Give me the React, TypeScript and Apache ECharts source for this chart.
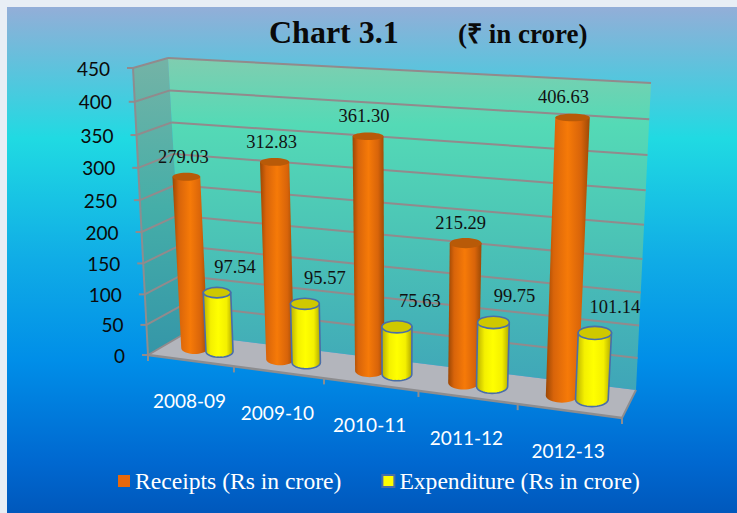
import React, { useEffect, useRef } from "react";
import * as echarts from "echarts";

const categories = ["2008-09", "2009-10", "2010-11", "2011-12", "2012-13"];
const receipts = [279.03, 312.83, 361.3, 215.29, 406.63];
const expenditure = [97.54, 95.57, 75.63, 99.75, 101.14];
const valueTicks = [0, 50, 100, 150, 200, 250, 300, 350, 400, 450];
const receiptsName = "Receipts (Rs in crore)";
const expenditureName = "Expenditure (Rs in crore)";

type Pt = [number, number];
// corners: bottom-left, bottom-right, top-right, top-left
const BACK: Pt[] = [[184, 334], [636, 390], [651, 83], [168, 58]];
const FRONT: Pt[] = [[148, 355], [622, 418], [641, 96], [133, 68]];

function homography(q: Pt[]) {
  const [[x0, y0], [x1, y1], [x2, y2], [x3, y3]] = q;
  const dx1 = x1 - x2, dx2 = x3 - x2, sx = x0 - x1 + x2 - x3;
  const dy1 = y1 - y2, dy2 = y3 - y2, sy = y0 - y1 + y2 - y3;
  const den = dx1 * dy2 - dx2 * dy1;
  const g = (sx * dy2 - dx2 * sy) / den;
  const h = (dx1 * sy - sx * dy1) / den;
  const a = x1 - x0 + g * x1, b = x3 - x0 + h * x3;
  const d = y1 - y0 + g * y1, e = y3 - y0 + h * y3;
  return (u: number, v: number): Pt => {
    const w = g * u + h * v + 1;
    return [(a * u + b * v + x0) / w, (d * u + e * v + y0) / w];
  };
}
const backH = homography(BACK);
const frontH = homography(FRONT);
function project(u: number, v: number, depth: number): Pt {
  const b = backH(u, v), f = frontH(u, v);
  return [b[0] + (f[0] - b[0]) * depth, b[1] + (f[1] - b[1]) * depth];
}

const GRID_COLOR = "#928a8c";
const AXIS_COLOR = "#8d8d8f";
const SERIF = '"Liberation Serif", serif';
const SANS = 'Lato, sans-serif';
const BAR_DEPTH = 0.5;
const RADIUS = 0.032;
const DEPTH_RADIUS = 0.27;

const vGrad = (stops: [number, string][]) => ({
  type: "linear", x: 0, y: 0, x2: 0, y2: 1,
  colorStops: stops.map(([offset, color]) => ({ offset, color })),
});
const hGrad = (stops: [number, string][]) => ({
  type: "linear", x: 0, y: 0, x2: 1, y2: 0,
  colorStops: stops.map(([offset, color]) => ({ offset, color })),
});

function toUnit(params: any, api: any, cat: number, val: number) {
  const pt = api.coord([cat, val]);
  const cs = params.coordSys;
  return { u: (pt[0] - cs.x) / cs.width, v: 1 - (pt[1] - cs.y) / cs.height };
}
const line = (a: Pt, b: Pt, stroke: string, lineWidth: number) => ({
  type: "line",
  shape: { x1: a[0], y1: a[1], x2: b[0], y2: b[1] },
  style: { stroke, lineWidth },
});

const renderWalls = () => ({
  type: "group",
  children: [
    {
      type: "polygon",
      shape: { points: [project(0, 0, 0), project(1, 0, 0), project(1, 1, 0), project(0, 1, 0)] },
      style: { fill: vGrad([[0, "#80cdb0"], [0.2, "#54dab6"], [0.55, "#4bc3b6"], [1, "#3fa5b8"]]) },
    },
    {
      type: "polygon",
      shape: { points: [project(0, 0, 1), project(0, 0, 0), project(0, 1, 0), project(0, 1, 1)] },
      style: { fill: vGrad([[0, "#74b3a6"], [0.5, "#45aea8"], [1, "#3596a8"]]) },
    },
    {
      type: "polygon",
      shape: { points: [project(0, 0, 1), project(1, 0, 1), project(1, 0, 0), project(0, 0, 0)] },
      style: { fill: "#b3b5bc" },
    },
    line(project(0, 0, 1), project(0, 1, 1), AXIS_COLOR, 2),
    line(project(0, 0, 1), project(1, 0, 1), AXIS_COLOR, 2.5),
    line(project(1, 0, 1), project(1, 0, 0), AXIS_COLOR, 2),
  ],
});

const renderValueTick = (params: any, api: any) => {
  const value = api.value(1);
  const { v } = toUnit(params, api, 0, value);
  const f = project(0, v, 1);
  const b = project(0, v, 0);
  const r = project(1, v, 0);
  const children: any[] = [
    line(f, b, GRID_COLOR, 2),
    line([f[0] - 6, f[1]], f, GRID_COLOR, 2),
    {
      type: "text",
      style: {
        x: f[0] - 23, y: f[1], text: String(value), fill: "#0a0a0a",
        font: `19px ${SANS}`, align: "right", verticalAlign: "middle",
      },
    },
  ];
  if (value > 0) children.unshift(line(b, r, GRID_COLOR, 2));
  return { type: "group", children };
};

const renderCategory = (params: any, api: any) => {
  const idx = api.value(0);
  const { u } = toUnit(params, api, idx, 0);
  const halfBand = 1 / (2 * categories.length);
  const p = project(u, 0, 1);
  const end = project(u + halfBand, 0, 1);
  const children: any[] = [
    line(end, [end[0], end[1] + 6], AXIS_COLOR, 2),
    {
      type: "text",
      style: {
        x: p[0] - 1, y: p[1] + 40, text: categories[idx], fill: "#ffffff",
        font: `19px ${SANS}`, align: "center", verticalAlign: "middle",
      },
    },
  ];
  if (idx === 0) {
    const start = project(0, 0, 1);
    children.push(line(start, [start[0], start[1] + 6], AXIS_COLOR, 2));
  }
  return { type: "group", children };
};

const makeCylinder = (cfg: {
  offset: number; body: any; top: string; stroke?: string; labelDx: number[]; labelDy: number;
}) => (params: any, api: any) => {
  const idx = api.value(0);
  const value = api.value(1);
  const { u, v } = toUnit(params, api, idx, value);
  const uc = u + cfg.offset;
  const ellipseAt = (vv: number) => {
    const c = project(uc, vv, BAR_DEPTH);
    const l = project(uc - RADIUS, vv, BAR_DEPTH);
    const rr = project(uc + RADIUS, vv, BAR_DEPTH);
    const near = project(uc, vv, 1);
    const far = project(uc, vv, 0);
    return { cx: c[0], cy: c[1], rx: (rr[0] - l[0]) / 2, ry: (near[1] - far[1]) * DEPTH_RADIUS };
  };
  const top = ellipseAt(v);
  const base = ellipseAt(0);
  const pts: Pt[] = [[top.cx - top.rx, top.cy], [top.cx + top.rx, top.cy]];
  const steps = 20;
  for (let s = 0; s <= steps; s++) {
    const a = (Math.PI * s) / steps;
    pts.push([base.cx + base.rx * Math.cos(a), base.cy + base.ry * Math.sin(a)]);
  }
  const strokeStyle = cfg.stroke ? { stroke: cfg.stroke, lineWidth: 1.6 } : {};
  return {
    type: "group",
    children: [
      { type: "polygon", shape: { points: pts }, style: { fill: cfg.body, ...strokeStyle } },
      {
        type: "ellipse",
        shape: { cx: top.cx, cy: top.cy, rx: top.rx, ry: top.ry },
        style: { fill: cfg.top, ...strokeStyle },
      },
      {
        type: "text",
        style: {
          x: top.cx + cfg.labelDx[idx], y: top.cy + cfg.labelDy, text: value.toFixed(2), fill: "#111111",
          font: `18.5px ${SERIF}`, align: "center", verticalAlign: "middle",
        },
      },
    ],
  };
};

const orangeBody = hGrad([[0, "#9c4704"], [0.18, "#d8640a"], [0.5, "#f67a08"], [0.8, "#d8640a"], [1, "#9c4a06"]]);
const yellowBody = hGrad([[0, "#b8ae00"], [0.25, "#f4f000"], [0.5, "#ffff00"], [0.78, "#f4f000"], [1, "#b0a800"]]);

export default function App() {
  const ref = useRef<HTMLDivElement>(null);
  useEffect(() => {
    const chart = echarts.init(ref.current!, undefined, { renderer: "svg" });
    const base = { type: "custom", coordinateSystem: "cartesian2d", silent: true, encode: { x: 0, y: 1 } };
    chart.setOption({
      animation: false,
      backgroundColor: "#e8eef5",
      graphic: [
        {
          type: "rect",
          z: -1,
          shape: { x: 7, y: 7, width: 730, height: 506 },
          style: {
            fill: vGrad([
              [0, "#93aed8"], [0.26, "#20dae2"], [0.5, "#10ace6"],
              [0.7, "#008ee8"], [0.9, "#0068d0"], [1, "#0058bc"],
            ]),
          },
        },
      ],
      title: [
        {
          text: "Chart 3.1", left: 264, top: 11,
          textStyle: { fontFamily: SERIF, fontWeight: "bold", fontSize: 32, color: "#0a0a0a" },
        },
        {
          text: "(₹ in crore)", left: 453, top: 15,
          textStyle: { fontFamily: SERIF, fontWeight: "bold", fontSize: 27, color: "#0a0a0a" },
        },
      ],
      legend: {
        left: 118, top: 469, padding: 0, itemWidth: 12, itemHeight: 12, itemGap: 40,
        icon: "rect",
        textStyle: { fontFamily: SERIF, fontSize: 23.6, color: "#ffffff" },
        data: [
          { name: receiptsName, itemStyle: { color: "#e8680a" } },
          { name: expenditureName, itemStyle: { color: "#ffff00", borderColor: "#4a6ea8", borderWidth: 2 } },
        ],
      },
      grid: { left: 100, top: 60, width: 500, height: 300 },
      xAxis: { type: "category", data: categories, show: false },
      yAxis: { type: "value", min: 0, max: 450, interval: 50, show: false },
      series: [
        { ...base, name: "walls", data: [[0, 0]], renderItem: renderWalls },
        { ...base, name: "value ticks", data: valueTicks.map((t) => [0, t]), renderItem: renderValueTick },
        { ...base, name: "categories", data: categories.map((_, i) => [i, 0]), renderItem: renderCategory },
        {
          ...base, name: receiptsName, itemStyle: { color: "#e8680a" },
          data: receipts.map((r, i) => [i, r]),
          renderItem: makeCylinder({ offset: -0.031, body: orangeBody, top: "#b85a08", labelDx: [-3, -3, -4, -5, -9], labelDy: -20 }),
        },
        {
          ...base, name: expenditureName, itemStyle: { color: "#ffff00" },
          data: expenditure.map((r, i) => [i, r]),
          renderItem: makeCylinder({ offset: 0.028, body: yellowBody, top: "#cfc800", stroke: "#4a6ea8", labelDx: [18, 20, 23, 21, 20], labelDy: -26 }),
        },
      ],
    });
    return () => chart.dispose();
  }, []);
  return <div ref={ref} style={{ position: "absolute", left: 0, top: 0, width: 737, height: 513 }} />;
}
